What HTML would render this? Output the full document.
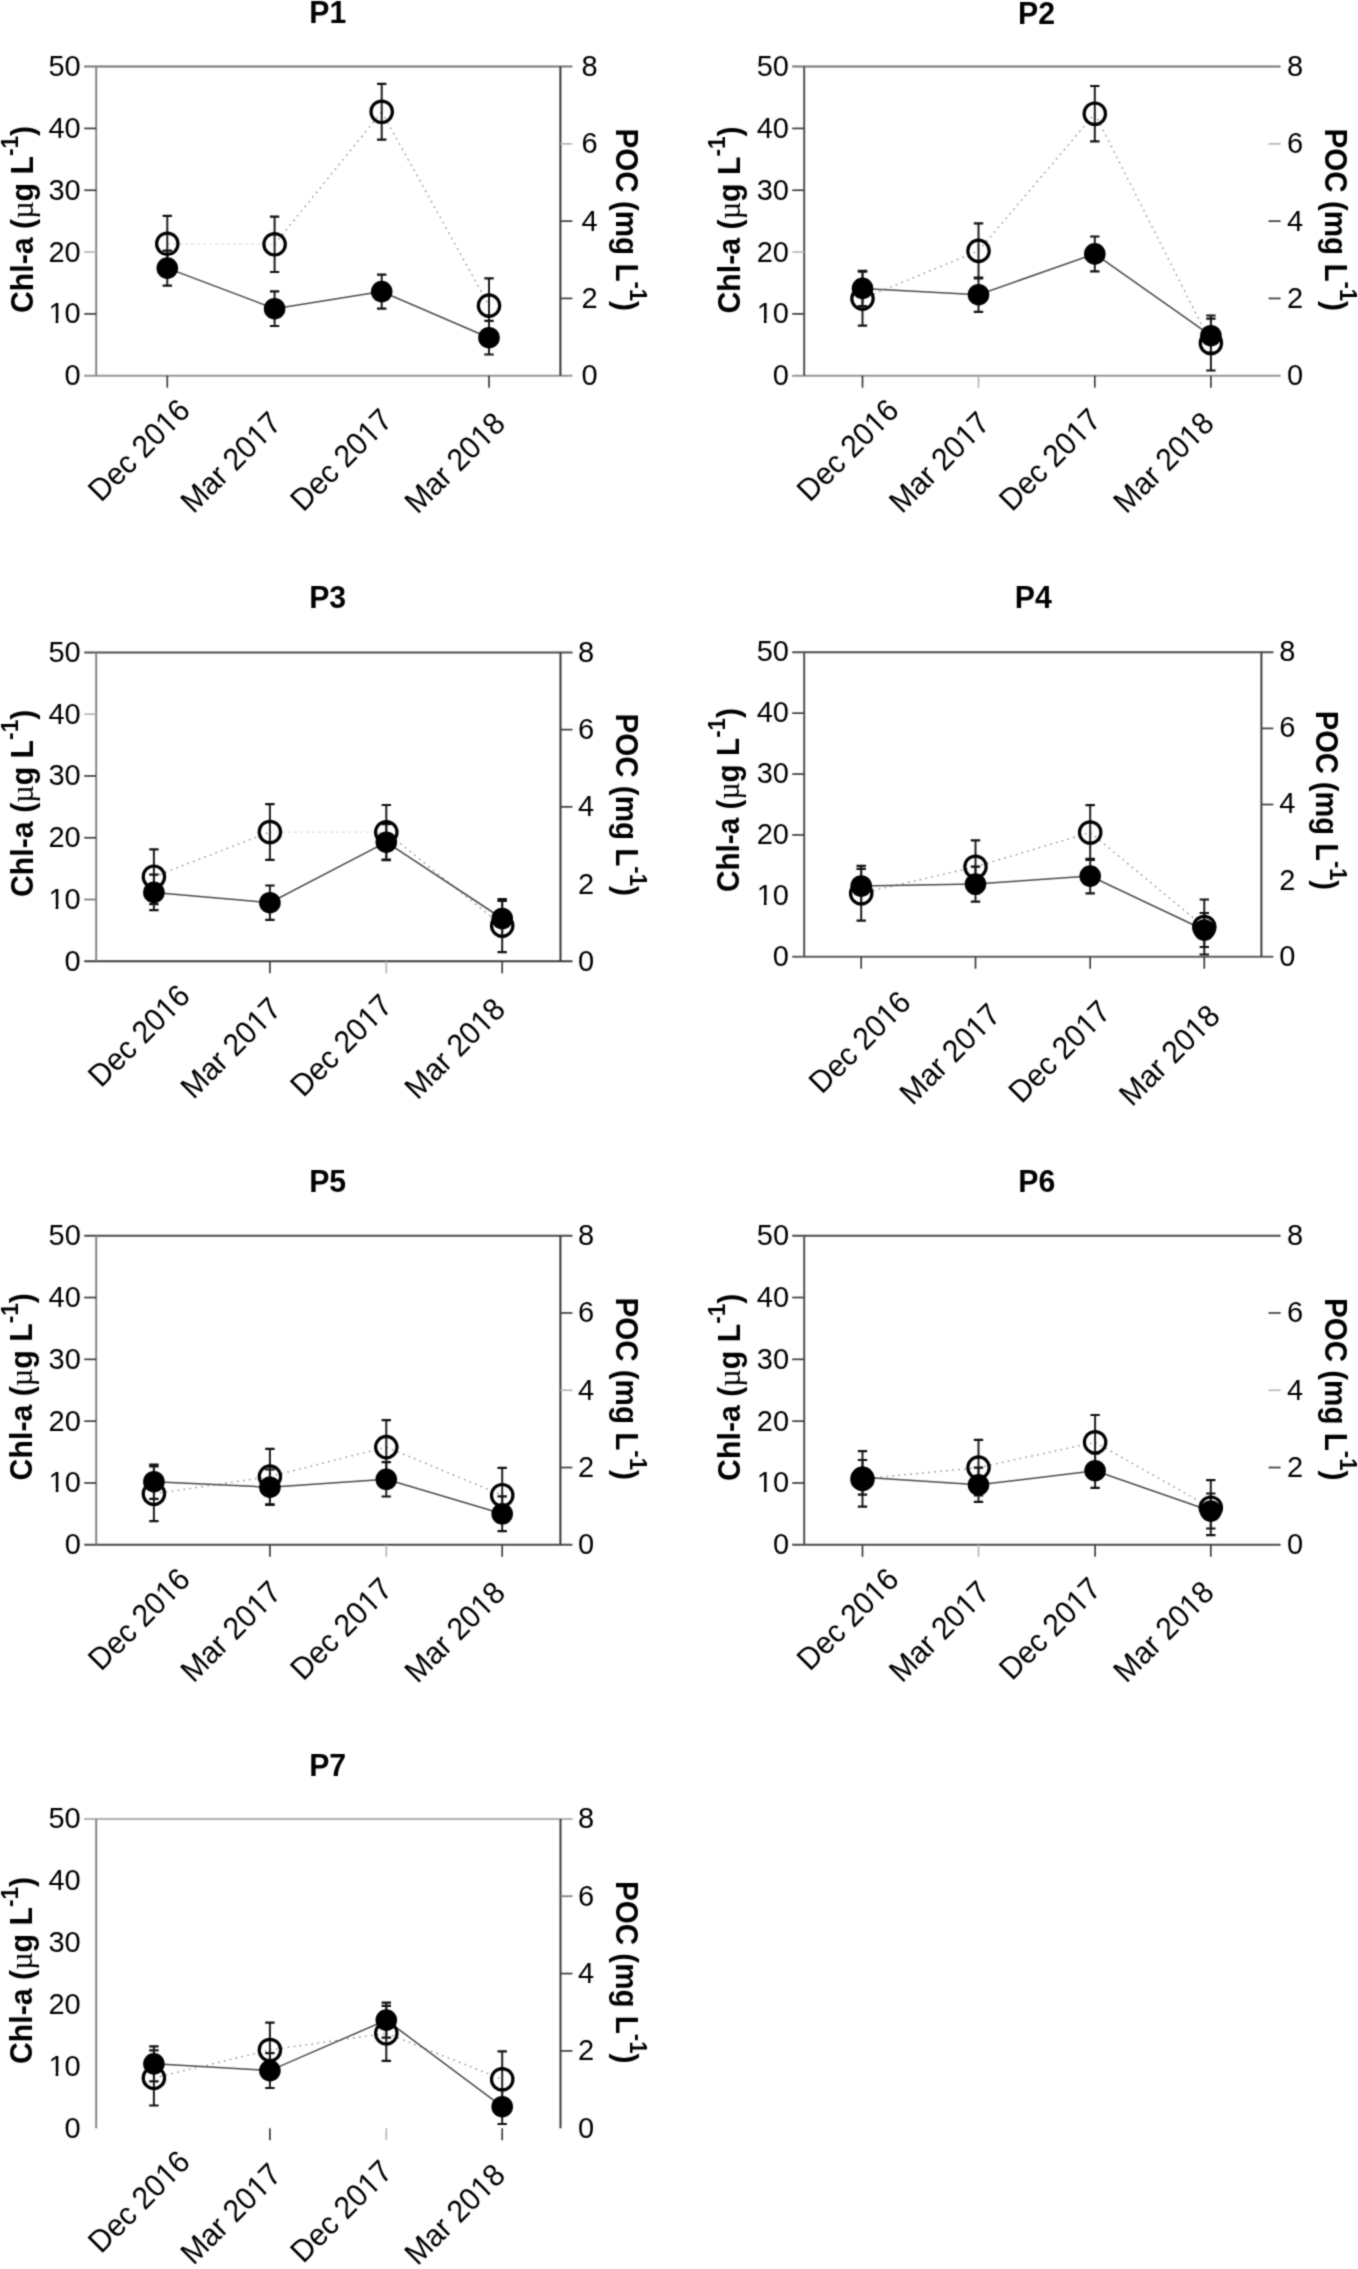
<!DOCTYPE html>
<html><head><meta charset="utf-8"><title>Chl-a and POC time series, stations P1-P7</title>
<style>html,body{margin:0;padding:0;background:#fff;overflow:hidden;}svg{display:block;}</style></head>
<body>
<svg width="1358" height="2269" viewBox="0 0 1358 2269" font-family='"Liberation Sans", sans-serif' fill="#000">
<defs><filter id="soft" filterUnits="userSpaceOnUse" x="0" y="0" width="1358" height="2269" color-interpolation-filters="sRGB"><feConvolveMatrix order="3" kernelMatrix="0.0324 0.1152 0.0324 0.1152 0.4096 0.1152 0.0324 0.1152 0.0324" divisor="1" edgeMode="duplicate"/></filter></defs>
<rect width="1358" height="2269" fill="#fff"/>
<g filter="url(#soft)">
<rect width="1358" height="2269" fill="#fff"/>
<g>
<text transform="translate(309.3,23.3) scale(0.96,1)" font-size="31.5" font-weight="bold">P1</text>
<line x1="84.2" y1="66.6" x2="572.4" y2="66.6" stroke="#767676" stroke-width="2.0"/>
<line x1="84.2" y1="375.7" x2="572.4" y2="375.7" stroke="#969696" stroke-width="2.0"/>
<line x1="96.2" y1="66.6" x2="96.2" y2="375.7" stroke="#868686" stroke-width="2.0"/>
<line x1="560.4" y1="66.6" x2="560.4" y2="375.7" stroke="#363636" stroke-width="2.0"/>
<text x="80.7" y="385.2" font-size="29" text-anchor="end">0</text>
<line x1="84.2" y1="313.88" x2="96.2" y2="313.88" stroke="#3e3e3e" stroke-width="1.7"/>
<text x="80.7" y="323.38" font-size="29" text-anchor="end">10</text>
<g transform="translate(80.7,323.38)"><rect x="-31.23" y="-4.35" width="6.15" height="5.37" fill="#fff"/><rect x="-22.36" y="-4.35" width="5.94" height="5.37" fill="#fff"/></g>
<line x1="84.2" y1="252.06" x2="96.2" y2="252.06" stroke="#b8b8b8" stroke-width="1.7"/>
<text x="80.7" y="261.56" font-size="29" text-anchor="end">20</text>
<line x1="84.2" y1="190.24" x2="96.2" y2="190.24" stroke="#3e3e3e" stroke-width="1.7"/>
<text x="80.7" y="199.74" font-size="29" text-anchor="end">30</text>
<line x1="84.2" y1="128.42" x2="96.2" y2="128.42" stroke="#3e3e3e" stroke-width="1.7"/>
<text x="80.7" y="137.92" font-size="29" text-anchor="end">40</text>
<text x="80.7" y="76.1" font-size="29" text-anchor="end">50</text>
<text x="581.4" y="385.2" font-size="29">0</text>
<line x1="560.4" y1="298.42" x2="572.4" y2="298.42" stroke="#3e3e3e" stroke-width="1.7"/>
<text x="581.4" y="307.92" font-size="29">2</text>
<line x1="560.4" y1="221.15" x2="572.4" y2="221.15" stroke="#3e3e3e" stroke-width="1.7"/>
<text x="581.4" y="230.65" font-size="29">4</text>
<line x1="560.4" y1="143.87" x2="572.4" y2="143.87" stroke="#b8b8b8" stroke-width="1.7"/>
<text x="581.4" y="153.37" font-size="29">6</text>
<text x="581.4" y="76.1" font-size="29">8</text>
<line x1="167.3" y1="375.7" x2="167.3" y2="387.7" stroke="#3e3e3e" stroke-width="1.7"/>
<line x1="489" y1="375.7" x2="489" y2="387.7" stroke="#3e3e3e" stroke-width="1.7"/>
<g transform="translate(191.9,412.2) rotate(-45) scale(1,1.045)"><text font-size="30" text-anchor="end">Dec 2016</text><rect x="-32.31" y="-4.5" width="6.36" height="5.55" fill="#fff"/><rect x="-23.13" y="-4.5" width="6.15" height="5.55" fill="#fff"/></g>
<g transform="translate(283,425) rotate(-45) scale(1,1.045)"><text font-size="30" text-anchor="end">Mar 2017</text><rect x="-32.31" y="-4.5" width="6.36" height="5.55" fill="#fff"/><rect x="-23.13" y="-4.5" width="6.15" height="5.55" fill="#fff"/></g>
<g transform="translate(394,421.9) rotate(-45) scale(1,1.045)"><text font-size="30" text-anchor="end">Dec 2017</text><rect x="-32.31" y="-4.5" width="6.36" height="5.55" fill="#fff"/><rect x="-23.13" y="-4.5" width="6.15" height="5.55" fill="#fff"/></g>
<g transform="translate(507,425.5) rotate(-45) scale(1,1.045)"><text font-size="30" text-anchor="end">Mar 2018</text><rect x="-32.31" y="-4.5" width="6.36" height="5.55" fill="#fff"/><rect x="-23.13" y="-4.5" width="6.15" height="5.55" fill="#fff"/></g>
<text transform="translate(32.5,313.1) rotate(-90) scale(0.962,1)" font-size="31.5" font-weight="bold">Chl-a (<tspan font-weight="normal" font-family="Liberation Serif">µ</tspan>g L<tspan font-size="23.5" dy="-14.5">-1</tspan><tspan dy="14.5">)</tspan></text>
<text transform="translate(615.9,128.6) rotate(90) scale(0.94,1)" font-size="31.5" font-weight="bold">POC (mg L<tspan font-size="23.5" dy="-14.5">-1</tspan><tspan dy="14.5">)</tspan></text>
<line x1="167.3" y1="243.8" x2="274.6" y2="244.3" stroke="#dedede" stroke-width="1.2" stroke-dasharray="3,3"/>
<line x1="274.6" y1="244.3" x2="381.7" y2="111.8" stroke="#8a8a8a" stroke-width="1.3" stroke-dasharray="1.6,4.4"/>
<line x1="381.7" y1="111.8" x2="489" y2="305.6" stroke="#8a8a8a" stroke-width="1.3" stroke-dasharray="1.6,4.4"/>
<polyline points="167.3,268.1 274.6,308.7 381.7,291.6 489,337.7" fill="none" stroke="#4a4a4a" stroke-width="1.5"/>
<path d="M167.3,215.9V271.7" stroke="#1e1e1e" stroke-width="2" fill="none"/>
<path d="M162.6,215.9H172M162.6,271.7H172" stroke="#111" stroke-width="2.2" fill="none"/>
<path d="M274.6,216.6V272" stroke="#1e1e1e" stroke-width="2" fill="none"/>
<path d="M269.9,216.6H279.3M269.9,272H279.3" stroke="#111" stroke-width="2.2" fill="none"/>
<path d="M381.7,83.9V139.7" stroke="#1e1e1e" stroke-width="2" fill="none"/>
<path d="M377,83.9H386.4M377,139.7H386.4" stroke="#111" stroke-width="2.2" fill="none"/>
<path d="M489,278.3V332.9" stroke="#1e1e1e" stroke-width="2" fill="none"/>
<path d="M484.3,278.3H493.7M484.3,332.9H493.7" stroke="#111" stroke-width="2.2" fill="none"/>
<path d="M167.3,250.6V285.6" stroke="#1e1e1e" stroke-width="2" fill="none"/>
<path d="M162.6,250.6H172M162.6,285.6H172" stroke="#111" stroke-width="2.2" fill="none"/>
<path d="M274.6,291.4V326" stroke="#1e1e1e" stroke-width="2" fill="none"/>
<path d="M269.9,291.4H279.3M269.9,326H279.3" stroke="#111" stroke-width="2.2" fill="none"/>
<path d="M381.7,274.6V308.6" stroke="#1e1e1e" stroke-width="2" fill="none"/>
<path d="M377,274.6H386.4M377,308.6H386.4" stroke="#111" stroke-width="2.2" fill="none"/>
<path d="M489,320.9V354.5" stroke="#1e1e1e" stroke-width="2" fill="none"/>
<path d="M484.3,320.9H493.7M484.3,354.5H493.7" stroke="#111" stroke-width="2.2" fill="none"/>
<circle cx="167.3" cy="243.8" r="10.7" fill="none" stroke="#000" stroke-width="3.2"/>
<circle cx="274.6" cy="244.3" r="10.7" fill="none" stroke="#000" stroke-width="3.2"/>
<circle cx="381.7" cy="111.8" r="10.7" fill="none" stroke="#000" stroke-width="3.2"/>
<circle cx="489" cy="305.6" r="10.7" fill="none" stroke="#000" stroke-width="3.2"/>
<circle cx="167.3" cy="268.1" r="10.8" fill="#000"/>
<circle cx="274.6" cy="308.7" r="10.8" fill="#000"/>
<circle cx="381.7" cy="291.6" r="10.8" fill="#000"/>
<circle cx="489" cy="337.7" r="10.8" fill="#000"/>
</g>
<g>
<text transform="translate(1018,23.5) scale(0.96,1)" font-size="31.5" font-weight="bold">P2</text>
<line x1="792.2" y1="66.6" x2="1280.6" y2="66.6" stroke="#767676" stroke-width="2.0"/>
<line x1="792.2" y1="375.7" x2="1280.6" y2="375.7" stroke="#969696" stroke-width="2.0"/>
<line x1="804.2" y1="66.6" x2="804.2" y2="375.7" stroke="#505050" stroke-width="2.0"/>
<text x="788.9" y="385.2" font-size="29" text-anchor="end">0</text>
<line x1="792.2" y1="313.88" x2="804.2" y2="313.88" stroke="#3e3e3e" stroke-width="1.7"/>
<text x="788.9" y="323.38" font-size="29" text-anchor="end">10</text>
<g transform="translate(788.9,323.38)"><rect x="-31.23" y="-4.35" width="6.15" height="5.37" fill="#fff"/><rect x="-22.36" y="-4.35" width="5.94" height="5.37" fill="#fff"/></g>
<line x1="792.2" y1="252.06" x2="804.2" y2="252.06" stroke="#b8b8b8" stroke-width="1.7"/>
<text x="788.9" y="261.56" font-size="29" text-anchor="end">20</text>
<line x1="792.2" y1="190.24" x2="804.2" y2="190.24" stroke="#3e3e3e" stroke-width="1.7"/>
<text x="788.9" y="199.74" font-size="29" text-anchor="end">30</text>
<line x1="792.2" y1="128.42" x2="804.2" y2="128.42" stroke="#3e3e3e" stroke-width="1.7"/>
<text x="788.9" y="137.92" font-size="29" text-anchor="end">40</text>
<text x="788.9" y="76.1" font-size="29" text-anchor="end">50</text>
<text x="1287" y="385.2" font-size="29">0</text>
<line x1="1268.6" y1="298.42" x2="1280.6" y2="298.42" stroke="#3e3e3e" stroke-width="1.7"/>
<text x="1287" y="307.92" font-size="29">2</text>
<line x1="1268.6" y1="221.15" x2="1280.6" y2="221.15" stroke="#3e3e3e" stroke-width="1.7"/>
<text x="1287" y="230.65" font-size="29">4</text>
<line x1="1268.6" y1="143.87" x2="1280.6" y2="143.87" stroke="#b8b8b8" stroke-width="1.7"/>
<text x="1287" y="153.37" font-size="29">6</text>
<text x="1287" y="76.1" font-size="29">8</text>
<line x1="862.5" y1="375.7" x2="862.5" y2="387.7" stroke="#3e3e3e" stroke-width="1.7"/>
<line x1="978.5" y1="375.7" x2="978.5" y2="387.7" stroke="#b8b8b8" stroke-width="1.7"/>
<line x1="1094.8" y1="375.7" x2="1094.8" y2="387.7" stroke="#3e3e3e" stroke-width="1.7"/>
<line x1="1210.9" y1="375.7" x2="1210.9" y2="387.7" stroke="#3e3e3e" stroke-width="1.7"/>
<g transform="translate(900.6,412.1) rotate(-45) scale(1,1.045)"><text font-size="30" text-anchor="end">Dec 2016</text><rect x="-32.31" y="-4.5" width="6.36" height="5.55" fill="#fff"/><rect x="-23.13" y="-4.5" width="6.15" height="5.55" fill="#fff"/></g>
<g transform="translate(991.5,425) rotate(-45) scale(1,1.045)"><text font-size="30" text-anchor="end">Mar 2017</text><rect x="-32.31" y="-4.5" width="6.36" height="5.55" fill="#fff"/><rect x="-23.13" y="-4.5" width="6.15" height="5.55" fill="#fff"/></g>
<g transform="translate(1102.7,421.6) rotate(-45) scale(1,1.045)"><text font-size="30" text-anchor="end">Dec 2017</text><rect x="-32.31" y="-4.5" width="6.36" height="5.55" fill="#fff"/><rect x="-23.13" y="-4.5" width="6.15" height="5.55" fill="#fff"/></g>
<g transform="translate(1215.8,425.2) rotate(-45) scale(1,1.045)"><text font-size="30" text-anchor="end">Mar 2018</text><rect x="-32.31" y="-4.5" width="6.36" height="5.55" fill="#fff"/><rect x="-23.13" y="-4.5" width="6.15" height="5.55" fill="#fff"/></g>
<text transform="translate(739.7,313.6) rotate(-90) scale(0.962,1)" font-size="31.5" font-weight="bold">Chl-a (<tspan font-weight="normal" font-family="Liberation Serif">µ</tspan>g L<tspan font-size="23.5" dy="-14.5">-1</tspan><tspan dy="14.5">)</tspan></text>
<text transform="translate(1325.1,128.6) rotate(90) scale(0.94,1)" font-size="31.5" font-weight="bold">POC (mg L<tspan font-size="23.5" dy="-14.5">-1</tspan><tspan dy="14.5">)</tspan></text>
<line x1="862.5" y1="298.6" x2="978.5" y2="250.9" stroke="#8a8a8a" stroke-width="1.3" stroke-dasharray="1.6,4.4"/>
<line x1="978.5" y1="250.9" x2="1094.8" y2="113.7" stroke="#8a8a8a" stroke-width="1.3" stroke-dasharray="1.6,4.4"/>
<line x1="1094.8" y1="113.7" x2="1210.9" y2="343" stroke="#8a8a8a" stroke-width="1.3" stroke-dasharray="1.6,4.4"/>
<polyline points="862.5,288.4 978.5,294.7 1094.8,253.9 1210.9,335.7" fill="none" stroke="#4a4a4a" stroke-width="1.5"/>
<path d="M862.5,271.6V325.6" stroke="#1e1e1e" stroke-width="2" fill="none"/>
<path d="M857.8,271.6H867.2M857.8,325.6H867.2" stroke="#111" stroke-width="2.2" fill="none"/>
<path d="M978.5,223.4V278.4" stroke="#1e1e1e" stroke-width="2" fill="none"/>
<path d="M973.8,223.4H983.2M973.8,278.4H983.2" stroke="#111" stroke-width="2.2" fill="none"/>
<path d="M1094.8,86V141.4" stroke="#1e1e1e" stroke-width="2" fill="none"/>
<path d="M1090.1,86H1099.5M1090.1,141.4H1099.5" stroke="#111" stroke-width="2.2" fill="none"/>
<path d="M1210.9,315.5V370.5" stroke="#1e1e1e" stroke-width="2" fill="none"/>
<path d="M1206.2,315.5H1215.6M1206.2,370.5H1215.6" stroke="#111" stroke-width="2.2" fill="none"/>
<path d="M862.5,270.8V306" stroke="#1e1e1e" stroke-width="2" fill="none"/>
<path d="M857.8,270.8H867.2M857.8,306H867.2" stroke="#111" stroke-width="2.2" fill="none"/>
<path d="M978.5,277.5V311.9" stroke="#1e1e1e" stroke-width="2" fill="none"/>
<path d="M973.8,277.5H983.2M973.8,311.9H983.2" stroke="#111" stroke-width="2.2" fill="none"/>
<path d="M1094.8,236.5V271.3" stroke="#1e1e1e" stroke-width="2" fill="none"/>
<path d="M1090.1,236.5H1099.5M1090.1,271.3H1099.5" stroke="#111" stroke-width="2.2" fill="none"/>
<path d="M1210.9,318.7V352.7" stroke="#1e1e1e" stroke-width="2" fill="none"/>
<path d="M1206.2,318.7H1215.6M1206.2,352.7H1215.6" stroke="#111" stroke-width="2.2" fill="none"/>
<circle cx="862.5" cy="298.6" r="10.7" fill="none" stroke="#000" stroke-width="3.2"/>
<circle cx="978.5" cy="250.9" r="10.7" fill="none" stroke="#000" stroke-width="3.2"/>
<circle cx="1094.8" cy="113.7" r="10.7" fill="none" stroke="#000" stroke-width="3.2"/>
<circle cx="1210.9" cy="343" r="10.7" fill="none" stroke="#000" stroke-width="3.2"/>
<circle cx="862.5" cy="288.4" r="10.8" fill="#000"/>
<circle cx="978.5" cy="294.7" r="10.8" fill="#000"/>
<circle cx="1094.8" cy="253.9" r="10.8" fill="#000"/>
<circle cx="1210.9" cy="335.7" r="10.8" fill="#000"/>
</g>
<g>
<text transform="translate(309.2,607.9) scale(0.96,1)" font-size="31.5" font-weight="bold">P3</text>
<line x1="84.2" y1="652.4" x2="572.5" y2="652.4" stroke="#4e4e4e" stroke-width="2.0"/>
<line x1="84.2" y1="961.3" x2="572.5" y2="961.3" stroke="#3b3b3b" stroke-width="2.0"/>
<line x1="96.2" y1="652.4" x2="96.2" y2="961.3" stroke="#868686" stroke-width="2.0"/>
<line x1="560.5" y1="652.4" x2="560.5" y2="961.3" stroke="#363636" stroke-width="2.0"/>
<text x="80.7" y="970.8" font-size="29" text-anchor="end">0</text>
<line x1="84.2" y1="899.52" x2="96.2" y2="899.52" stroke="#7a7a7a" stroke-width="1.7"/>
<text x="80.7" y="909.02" font-size="29" text-anchor="end">10</text>
<g transform="translate(80.7,909.02)"><rect x="-31.23" y="-4.35" width="6.15" height="5.37" fill="#fff"/><rect x="-22.36" y="-4.35" width="5.94" height="5.37" fill="#fff"/></g>
<line x1="84.2" y1="837.74" x2="96.2" y2="837.74" stroke="#3e3e3e" stroke-width="1.7"/>
<text x="80.7" y="847.24" font-size="29" text-anchor="end">20</text>
<line x1="84.2" y1="775.96" x2="96.2" y2="775.96" stroke="#3e3e3e" stroke-width="1.7"/>
<text x="80.7" y="785.46" font-size="29" text-anchor="end">30</text>
<line x1="84.2" y1="714.18" x2="96.2" y2="714.18" stroke="#b8b8b8" stroke-width="1.7"/>
<text x="80.7" y="723.68" font-size="29" text-anchor="end">40</text>
<text x="80.7" y="661.9" font-size="29" text-anchor="end">50</text>
<text x="578.1" y="970.8" font-size="29">0</text>
<text x="578.1" y="893.57" font-size="29">2</text>
<line x1="560.5" y1="806.85" x2="572.5" y2="806.85" stroke="#3e3e3e" stroke-width="1.7"/>
<text x="578.1" y="816.35" font-size="29">4</text>
<line x1="560.5" y1="729.62" x2="572.5" y2="729.62" stroke="#3e3e3e" stroke-width="1.7"/>
<text x="578.1" y="739.12" font-size="29">6</text>
<text x="578.1" y="661.9" font-size="29">8</text>
<line x1="269.9" y1="961.3" x2="269.9" y2="973.3" stroke="#3e3e3e" stroke-width="1.7"/>
<line x1="386.3" y1="961.3" x2="386.3" y2="973.3" stroke="#b8b8b8" stroke-width="1.7"/>
<line x1="502.2" y1="961.3" x2="502.2" y2="973.3" stroke="#3e3e3e" stroke-width="1.7"/>
<g transform="translate(191.9,997.8) rotate(-45) scale(1,1.045)"><text font-size="30" text-anchor="end">Dec 2016</text><rect x="-32.31" y="-4.5" width="6.36" height="5.55" fill="#fff"/><rect x="-23.13" y="-4.5" width="6.15" height="5.55" fill="#fff"/></g>
<g transform="translate(283,1010.6) rotate(-45) scale(1,1.045)"><text font-size="30" text-anchor="end">Mar 2017</text><rect x="-32.31" y="-4.5" width="6.36" height="5.55" fill="#fff"/><rect x="-23.13" y="-4.5" width="6.15" height="5.55" fill="#fff"/></g>
<g transform="translate(394,1007.5) rotate(-45) scale(1,1.045)"><text font-size="30" text-anchor="end">Dec 2017</text><rect x="-32.31" y="-4.5" width="6.36" height="5.55" fill="#fff"/><rect x="-23.13" y="-4.5" width="6.15" height="5.55" fill="#fff"/></g>
<g transform="translate(507,1011.1) rotate(-45) scale(1,1.045)"><text font-size="30" text-anchor="end">Mar 2018</text><rect x="-32.31" y="-4.5" width="6.36" height="5.55" fill="#fff"/><rect x="-23.13" y="-4.5" width="6.15" height="5.55" fill="#fff"/></g>
<text transform="translate(32.5,897) rotate(-90) scale(0.962,1)" font-size="31.5" font-weight="bold">Chl-a (<tspan font-weight="normal" font-family="Liberation Serif">µ</tspan>g L<tspan font-size="23.5" dy="-14.5">-1</tspan><tspan dy="14.5">)</tspan></text>
<text transform="translate(615.9,713.5) rotate(90) scale(0.94,1)" font-size="31.5" font-weight="bold">POC (mg L<tspan font-size="23.5" dy="-14.5">-1</tspan><tspan dy="14.5">)</tspan></text>
<line x1="153.9" y1="876.7" x2="269.9" y2="832" stroke="#8a8a8a" stroke-width="1.3" stroke-dasharray="1.6,4.4"/>
<line x1="269.9" y1="832" x2="386.3" y2="832.3" stroke="#dedede" stroke-width="1.2" stroke-dasharray="3,3"/>
<line x1="386.3" y1="832.3" x2="502.2" y2="925.6" stroke="#8a8a8a" stroke-width="1.3" stroke-dasharray="1.6,4.4"/>
<polyline points="153.9,892.4 269.9,902.7 386.3,842.2 502.2,918.5" fill="none" stroke="#4a4a4a" stroke-width="1.5"/>
<path d="M153.9,849.3V904.1" stroke="#1e1e1e" stroke-width="2" fill="none"/>
<path d="M149.2,849.3H158.6M149.2,904.1H158.6" stroke="#111" stroke-width="2.2" fill="none"/>
<path d="M269.9,804.1V859.9" stroke="#1e1e1e" stroke-width="2" fill="none"/>
<path d="M265.2,804.1H274.6M265.2,859.9H274.6" stroke="#111" stroke-width="2.2" fill="none"/>
<path d="M386.3,805V859.6" stroke="#1e1e1e" stroke-width="2" fill="none"/>
<path d="M381.6,805H391M381.6,859.6H391" stroke="#111" stroke-width="2.2" fill="none"/>
<path d="M502.2,899.1V952.1" stroke="#1e1e1e" stroke-width="2" fill="none"/>
<path d="M497.5,899.1H506.9M497.5,952.1H506.9" stroke="#111" stroke-width="2.2" fill="none"/>
<path d="M153.9,874.7V910.1" stroke="#1e1e1e" stroke-width="2" fill="none"/>
<path d="M149.2,874.7H158.6M149.2,910.1H158.6" stroke="#111" stroke-width="2.2" fill="none"/>
<path d="M269.9,885.5V919.9" stroke="#1e1e1e" stroke-width="2" fill="none"/>
<path d="M265.2,885.5H274.6M265.2,919.9H274.6" stroke="#111" stroke-width="2.2" fill="none"/>
<path d="M386.3,824.2V860.2" stroke="#1e1e1e" stroke-width="2" fill="none"/>
<path d="M381.6,824.2H391M381.6,860.2H391" stroke="#111" stroke-width="2.2" fill="none"/>
<path d="M502.2,900.8V936.2" stroke="#1e1e1e" stroke-width="2" fill="none"/>
<path d="M497.5,900.8H506.9M497.5,936.2H506.9" stroke="#111" stroke-width="2.2" fill="none"/>
<circle cx="153.9" cy="876.7" r="10.7" fill="none" stroke="#000" stroke-width="3.2"/>
<circle cx="269.9" cy="832" r="10.7" fill="none" stroke="#000" stroke-width="3.2"/>
<circle cx="386.3" cy="832.3" r="10.7" fill="none" stroke="#000" stroke-width="3.2"/>
<circle cx="502.2" cy="925.6" r="10.7" fill="none" stroke="#000" stroke-width="3.2"/>
<circle cx="153.9" cy="892.4" r="10.8" fill="#000"/>
<circle cx="269.9" cy="902.7" r="10.8" fill="#000"/>
<circle cx="386.3" cy="842.2" r="10.8" fill="#000"/>
<circle cx="502.2" cy="918.5" r="10.8" fill="#000"/>
</g>
<g>
<text transform="translate(1014.8,607.9) scale(0.96,1)" font-size="31.5" font-weight="bold">P4</text>
<line x1="792.2" y1="652.3" x2="1273.4" y2="652.3" stroke="#4e4e4e" stroke-width="2.0"/>
<line x1="792.2" y1="956.7" x2="1273.4" y2="956.7" stroke="#5e5e5e" stroke-width="2.0"/>
<line x1="804.2" y1="652.3" x2="804.2" y2="956.7" stroke="#505050" stroke-width="2.0"/>
<line x1="1261.4" y1="652.3" x2="1261.4" y2="956.7" stroke="#404040" stroke-width="2.0"/>
<text x="788.9" y="965.6" font-size="29" text-anchor="end">0</text>
<text x="788.9" y="904.72" font-size="29" text-anchor="end">10</text>
<g transform="translate(788.9,904.72)"><rect x="-31.23" y="-4.35" width="6.15" height="5.37" fill="#fff"/><rect x="-22.36" y="-4.35" width="5.94" height="5.37" fill="#fff"/></g>
<line x1="792.2" y1="834.94" x2="804.2" y2="834.94" stroke="#3e3e3e" stroke-width="1.7"/>
<text x="788.9" y="843.84" font-size="29" text-anchor="end">20</text>
<line x1="792.2" y1="774.06" x2="804.2" y2="774.06" stroke="#3e3e3e" stroke-width="1.7"/>
<text x="788.9" y="782.96" font-size="29" text-anchor="end">30</text>
<line x1="792.2" y1="713.18" x2="804.2" y2="713.18" stroke="#3e3e3e" stroke-width="1.7"/>
<text x="788.9" y="722.08" font-size="29" text-anchor="end">40</text>
<text x="788.9" y="661.2" font-size="29" text-anchor="end">50</text>
<text x="1279.3" y="965.6" font-size="29">0</text>
<text x="1279.3" y="889.5" font-size="29">2</text>
<line x1="1261.4" y1="804.5" x2="1273.4" y2="804.5" stroke="#3e3e3e" stroke-width="1.7"/>
<text x="1279.3" y="813.4" font-size="29">4</text>
<line x1="1261.4" y1="728.4" x2="1273.4" y2="728.4" stroke="#3e3e3e" stroke-width="1.7"/>
<text x="1279.3" y="737.3" font-size="29">6</text>
<text x="1279.3" y="661.2" font-size="29">8</text>
<line x1="861.2" y1="956.7" x2="861.2" y2="968.7" stroke="#3e3e3e" stroke-width="1.7"/>
<line x1="975.5" y1="956.7" x2="975.5" y2="968.7" stroke="#3e3e3e" stroke-width="1.7"/>
<line x1="1090.2" y1="956.7" x2="1090.2" y2="968.7" stroke="#3e3e3e" stroke-width="1.7"/>
<line x1="1204.3" y1="956.7" x2="1204.3" y2="968.7" stroke="#3e3e3e" stroke-width="1.7"/>
<g transform="translate(912.6,1004.2) rotate(-45) scale(1,1.045)"><text font-size="30" text-anchor="end">Dec 2016</text><rect x="-32.31" y="-4.5" width="6.36" height="5.55" fill="#fff"/><rect x="-23.13" y="-4.5" width="6.15" height="5.55" fill="#fff"/></g>
<g transform="translate(1002.2,1016.7) rotate(-45) scale(1,1.045)"><text font-size="30" text-anchor="end">Mar 2017</text><rect x="-32.31" y="-4.5" width="6.36" height="5.55" fill="#fff"/><rect x="-23.13" y="-4.5" width="6.15" height="5.55" fill="#fff"/></g>
<g transform="translate(1112.2,1013.8) rotate(-45) scale(1,1.045)"><text font-size="30" text-anchor="end">Dec 2017</text><rect x="-32.31" y="-4.5" width="6.36" height="5.55" fill="#fff"/><rect x="-23.13" y="-4.5" width="6.15" height="5.55" fill="#fff"/></g>
<g transform="translate(1221.7,1017.9) rotate(-45) scale(1,1.045)"><text font-size="30" text-anchor="end">Mar 2018</text><rect x="-32.31" y="-4.5" width="6.36" height="5.55" fill="#fff"/><rect x="-23.13" y="-4.5" width="6.15" height="5.55" fill="#fff"/></g>
<text transform="translate(739.4,892.1) rotate(-90) scale(0.944684,1)" font-size="31.5" font-weight="bold">Chl-a (<tspan font-weight="normal" font-family="Liberation Serif">µ</tspan>g L<tspan font-size="23.5" dy="-14.5">-1</tspan><tspan dy="14.5">)</tspan></text>
<text transform="translate(1315.9,710.8) rotate(90) scale(0.9230799999999999,1)" font-size="31.5" font-weight="bold">POC (mg L<tspan font-size="23.5" dy="-14.5">-1</tspan><tspan dy="14.5">)</tspan></text>
<line x1="861.2" y1="893.3" x2="975.5" y2="866.8" stroke="#8a8a8a" stroke-width="1.3" stroke-dasharray="1.6,4.4"/>
<line x1="975.5" y1="866.8" x2="1090.2" y2="832.5" stroke="#8a8a8a" stroke-width="1.3" stroke-dasharray="1.6,4.4"/>
<line x1="1090.2" y1="832.5" x2="1204.3" y2="927" stroke="#8a8a8a" stroke-width="1.3" stroke-dasharray="1.6,4.4"/>
<polyline points="861.2,886 975.5,884.1 1090.2,876.1 1204.3,930" fill="none" stroke="#4a4a4a" stroke-width="1.5"/>
<path d="M861.2,865.9V920.7" stroke="#1e1e1e" stroke-width="2" fill="none"/>
<path d="M856.5,865.9H865.9M856.5,920.7H865.9" stroke="#111" stroke-width="2.2" fill="none"/>
<path d="M975.5,840.3V893.3" stroke="#1e1e1e" stroke-width="2" fill="none"/>
<path d="M970.8,840.3H980.2M970.8,893.3H980.2" stroke="#111" stroke-width="2.2" fill="none"/>
<path d="M1090.2,805.2V859.8" stroke="#1e1e1e" stroke-width="2" fill="none"/>
<path d="M1085.5,805.2H1094.9M1085.5,859.8H1094.9" stroke="#111" stroke-width="2.2" fill="none"/>
<path d="M1204.3,899.5V954.5" stroke="#1e1e1e" stroke-width="2" fill="none"/>
<path d="M1199.6,899.5H1209M1199.6,954.5H1209" stroke="#111" stroke-width="2.2" fill="none"/>
<path d="M861.2,868.8V903.2" stroke="#1e1e1e" stroke-width="2" fill="none"/>
<path d="M856.5,868.8H865.9M856.5,903.2H865.9" stroke="#111" stroke-width="2.2" fill="none"/>
<path d="M975.5,866.6V901.6" stroke="#1e1e1e" stroke-width="2" fill="none"/>
<path d="M970.8,866.6H980.2M970.8,901.6H980.2" stroke="#111" stroke-width="2.2" fill="none"/>
<path d="M1090.2,858.8V893.4" stroke="#1e1e1e" stroke-width="2" fill="none"/>
<path d="M1085.5,858.8H1094.9M1085.5,893.4H1094.9" stroke="#111" stroke-width="2.2" fill="none"/>
<path d="M1204.3,913V947" stroke="#1e1e1e" stroke-width="2" fill="none"/>
<path d="M1199.6,913H1209M1199.6,947H1209" stroke="#111" stroke-width="2.2" fill="none"/>
<circle cx="861.2" cy="893.3" r="10.7" fill="none" stroke="#000" stroke-width="3.2"/>
<circle cx="975.5" cy="866.8" r="10.7" fill="none" stroke="#000" stroke-width="3.2"/>
<circle cx="1090.2" cy="832.5" r="10.7" fill="none" stroke="#000" stroke-width="3.2"/>
<circle cx="1204.3" cy="927" r="10.7" fill="none" stroke="#000" stroke-width="3.2"/>
<circle cx="861.2" cy="886" r="10.8" fill="#000"/>
<circle cx="975.5" cy="884.1" r="10.8" fill="#000"/>
<circle cx="1090.2" cy="876.1" r="10.8" fill="#000"/>
<circle cx="1204.3" cy="930" r="10.8" fill="#000"/>
</g>
<g>
<text transform="translate(309.2,1192.3) scale(0.96,1)" font-size="31.5" font-weight="bold">P5</text>
<line x1="84.2" y1="1235.7" x2="572.4" y2="1235.7" stroke="#4a4a4a" stroke-width="2.0"/>
<line x1="84.2" y1="1544.8" x2="572.4" y2="1544.8" stroke="#4a4a4a" stroke-width="2.0"/>
<line x1="96.2" y1="1235.7" x2="96.2" y2="1544.8" stroke="#868686" stroke-width="2.0"/>
<line x1="560.4" y1="1235.7" x2="560.4" y2="1544.8" stroke="#363636" stroke-width="2.0"/>
<text x="80.8" y="1554.3" font-size="29" text-anchor="end">0</text>
<line x1="84.2" y1="1482.98" x2="96.2" y2="1482.98" stroke="#3e3e3e" stroke-width="1.7"/>
<text x="80.8" y="1492.48" font-size="29" text-anchor="end">10</text>
<g transform="translate(80.8,1492.48)"><rect x="-31.23" y="-4.35" width="6.15" height="5.37" fill="#fff"/><rect x="-22.36" y="-4.35" width="5.94" height="5.37" fill="#fff"/></g>
<line x1="84.2" y1="1421.16" x2="96.2" y2="1421.16" stroke="#3e3e3e" stroke-width="1.7"/>
<text x="80.8" y="1430.66" font-size="29" text-anchor="end">20</text>
<line x1="84.2" y1="1359.34" x2="96.2" y2="1359.34" stroke="#3e3e3e" stroke-width="1.7"/>
<text x="80.8" y="1368.84" font-size="29" text-anchor="end">30</text>
<line x1="84.2" y1="1297.52" x2="96.2" y2="1297.52" stroke="#3e3e3e" stroke-width="1.7"/>
<text x="80.8" y="1307.02" font-size="29" text-anchor="end">40</text>
<text x="80.8" y="1245.2" font-size="29" text-anchor="end">50</text>
<text x="578.1" y="1554.3" font-size="29">0</text>
<line x1="560.4" y1="1467.53" x2="572.4" y2="1467.53" stroke="#3e3e3e" stroke-width="1.7"/>
<text x="578.1" y="1477.03" font-size="29">2</text>
<line x1="560.4" y1="1390.25" x2="572.4" y2="1390.25" stroke="#b8b8b8" stroke-width="1.7"/>
<text x="578.1" y="1399.75" font-size="29">4</text>
<line x1="560.4" y1="1312.97" x2="572.4" y2="1312.97" stroke="#3e3e3e" stroke-width="1.7"/>
<text x="578.1" y="1322.47" font-size="29">6</text>
<text x="578.1" y="1245.2" font-size="29">8</text>
<line x1="269.9" y1="1544.8" x2="269.9" y2="1556.8" stroke="#3e3e3e" stroke-width="1.7"/>
<line x1="386.3" y1="1544.8" x2="386.3" y2="1556.8" stroke="#b8b8b8" stroke-width="1.7"/>
<line x1="502.2" y1="1544.8" x2="502.2" y2="1556.8" stroke="#3e3e3e" stroke-width="1.7"/>
<g transform="translate(191.9,1581.3) rotate(-45) scale(1,1.045)"><text font-size="30" text-anchor="end">Dec 2016</text><rect x="-32.31" y="-4.5" width="6.36" height="5.55" fill="#fff"/><rect x="-23.13" y="-4.5" width="6.15" height="5.55" fill="#fff"/></g>
<g transform="translate(283,1594.1) rotate(-45) scale(1,1.045)"><text font-size="30" text-anchor="end">Mar 2017</text><rect x="-32.31" y="-4.5" width="6.36" height="5.55" fill="#fff"/><rect x="-23.13" y="-4.5" width="6.15" height="5.55" fill="#fff"/></g>
<g transform="translate(394,1591) rotate(-45) scale(1,1.045)"><text font-size="30" text-anchor="end">Dec 2017</text><rect x="-32.31" y="-4.5" width="6.36" height="5.55" fill="#fff"/><rect x="-23.13" y="-4.5" width="6.15" height="5.55" fill="#fff"/></g>
<g transform="translate(507,1594.6) rotate(-45) scale(1,1.045)"><text font-size="30" text-anchor="end">Mar 2018</text><rect x="-32.31" y="-4.5" width="6.36" height="5.55" fill="#fff"/><rect x="-23.13" y="-4.5" width="6.15" height="5.55" fill="#fff"/></g>
<text transform="translate(32.3,1480.4) rotate(-90) scale(0.962,1)" font-size="31.5" font-weight="bold">Chl-a (<tspan font-weight="normal" font-family="Liberation Serif">µ</tspan>g L<tspan font-size="23.5" dy="-14.5">-1</tspan><tspan dy="14.5">)</tspan></text>
<text transform="translate(615.9,1297.4) rotate(90) scale(0.94,1)" font-size="31.5" font-weight="bold">POC (mg L<tspan font-size="23.5" dy="-14.5">-1</tspan><tspan dy="14.5">)</tspan></text>
<line x1="153.9" y1="1493.8" x2="269.9" y2="1476.6" stroke="#8a8a8a" stroke-width="1.3" stroke-dasharray="1.6,4.4"/>
<line x1="269.9" y1="1476.6" x2="386.3" y2="1447.1" stroke="#8a8a8a" stroke-width="1.3" stroke-dasharray="1.6,4.4"/>
<line x1="386.3" y1="1447.1" x2="502.2" y2="1495.2" stroke="#8a8a8a" stroke-width="1.3" stroke-dasharray="1.6,4.4"/>
<polyline points="153.9,1481.7 269.9,1487.2 386.3,1479.3 502.2,1513.8" fill="none" stroke="#4a4a4a" stroke-width="1.5"/>
<path d="M153.9,1466.4V1521.2" stroke="#1e1e1e" stroke-width="2" fill="none"/>
<path d="M149.2,1466.4H158.6M149.2,1521.2H158.6" stroke="#111" stroke-width="2.2" fill="none"/>
<path d="M269.9,1448.9V1504.3" stroke="#1e1e1e" stroke-width="2" fill="none"/>
<path d="M265.2,1448.9H274.6M265.2,1504.3H274.6" stroke="#111" stroke-width="2.2" fill="none"/>
<path d="M386.3,1420.1V1474.1" stroke="#1e1e1e" stroke-width="2" fill="none"/>
<path d="M381.6,1420.1H391M381.6,1474.1H391" stroke="#111" stroke-width="2.2" fill="none"/>
<path d="M502.2,1467.8V1522.6" stroke="#1e1e1e" stroke-width="2" fill="none"/>
<path d="M497.5,1467.8H506.9M497.5,1522.6H506.9" stroke="#111" stroke-width="2.2" fill="none"/>
<path d="M153.9,1464.6V1498.8" stroke="#1e1e1e" stroke-width="2" fill="none"/>
<path d="M149.2,1464.6H158.6M149.2,1498.8H158.6" stroke="#111" stroke-width="2.2" fill="none"/>
<path d="M269.9,1469.5V1504.9" stroke="#1e1e1e" stroke-width="2" fill="none"/>
<path d="M265.2,1469.5H274.6M265.2,1504.9H274.6" stroke="#111" stroke-width="2.2" fill="none"/>
<path d="M386.3,1462.1V1496.5" stroke="#1e1e1e" stroke-width="2" fill="none"/>
<path d="M381.6,1462.1H391M381.6,1496.5H391" stroke="#111" stroke-width="2.2" fill="none"/>
<path d="M502.2,1496.4V1531.2" stroke="#1e1e1e" stroke-width="2" fill="none"/>
<path d="M497.5,1496.4H506.9M497.5,1531.2H506.9" stroke="#111" stroke-width="2.2" fill="none"/>
<circle cx="153.9" cy="1493.8" r="10.7" fill="none" stroke="#000" stroke-width="3.2"/>
<circle cx="269.9" cy="1476.6" r="10.7" fill="none" stroke="#000" stroke-width="3.2"/>
<circle cx="386.3" cy="1447.1" r="10.7" fill="none" stroke="#000" stroke-width="3.2"/>
<circle cx="502.2" cy="1495.2" r="10.7" fill="none" stroke="#000" stroke-width="3.2"/>
<circle cx="153.9" cy="1481.7" r="10.8" fill="#000"/>
<circle cx="269.9" cy="1487.2" r="10.8" fill="#000"/>
<circle cx="386.3" cy="1479.3" r="10.8" fill="#000"/>
<circle cx="502.2" cy="1513.8" r="10.8" fill="#000"/>
</g>
<g>
<text transform="translate(1018.3,1192.3) scale(0.96,1)" font-size="31.5" font-weight="bold">P6</text>
<line x1="792.2" y1="1235.7" x2="1280.6" y2="1235.7" stroke="#4a4a4a" stroke-width="2.0"/>
<line x1="792.2" y1="1544.8" x2="1280.6" y2="1544.8" stroke="#4c4c4c" stroke-width="2.0"/>
<line x1="804.2" y1="1235.7" x2="804.2" y2="1544.8" stroke="#505050" stroke-width="2.0"/>
<text x="789.1" y="1554.3" font-size="29" text-anchor="end">0</text>
<line x1="792.2" y1="1482.98" x2="804.2" y2="1482.98" stroke="#3e3e3e" stroke-width="1.7"/>
<text x="789.1" y="1492.48" font-size="29" text-anchor="end">10</text>
<g transform="translate(789.1,1492.48)"><rect x="-31.23" y="-4.35" width="6.15" height="5.37" fill="#fff"/><rect x="-22.36" y="-4.35" width="5.94" height="5.37" fill="#fff"/></g>
<line x1="792.2" y1="1421.16" x2="804.2" y2="1421.16" stroke="#3e3e3e" stroke-width="1.7"/>
<text x="789.1" y="1430.66" font-size="29" text-anchor="end">20</text>
<line x1="792.2" y1="1359.34" x2="804.2" y2="1359.34" stroke="#3e3e3e" stroke-width="1.7"/>
<text x="789.1" y="1368.84" font-size="29" text-anchor="end">30</text>
<line x1="792.2" y1="1297.52" x2="804.2" y2="1297.52" stroke="#3e3e3e" stroke-width="1.7"/>
<text x="789.1" y="1307.02" font-size="29" text-anchor="end">40</text>
<text x="789.1" y="1245.2" font-size="29" text-anchor="end">50</text>
<text x="1287" y="1554.3" font-size="29">0</text>
<line x1="1268.6" y1="1467.53" x2="1280.6" y2="1467.53" stroke="#3e3e3e" stroke-width="1.7"/>
<text x="1287" y="1477.03" font-size="29">2</text>
<line x1="1268.6" y1="1390.25" x2="1280.6" y2="1390.25" stroke="#b8b8b8" stroke-width="1.7"/>
<text x="1287" y="1399.75" font-size="29">4</text>
<line x1="1268.6" y1="1312.97" x2="1280.6" y2="1312.97" stroke="#3e3e3e" stroke-width="1.7"/>
<text x="1287" y="1322.47" font-size="29">6</text>
<text x="1287" y="1245.2" font-size="29">8</text>
<line x1="862.5" y1="1544.8" x2="862.5" y2="1556.8" stroke="#3e3e3e" stroke-width="1.7"/>
<line x1="978.5" y1="1544.8" x2="978.5" y2="1556.8" stroke="#b8b8b8" stroke-width="1.7"/>
<line x1="1095.1" y1="1544.8" x2="1095.1" y2="1556.8" stroke="#3e3e3e" stroke-width="1.7"/>
<line x1="1210.8" y1="1544.8" x2="1210.8" y2="1556.8" stroke="#3e3e3e" stroke-width="1.7"/>
<g transform="translate(900.6,1581.2) rotate(-45) scale(1,1.045)"><text font-size="30" text-anchor="end">Dec 2016</text><rect x="-32.31" y="-4.5" width="6.36" height="5.55" fill="#fff"/><rect x="-23.13" y="-4.5" width="6.15" height="5.55" fill="#fff"/></g>
<g transform="translate(991.5,1594.1) rotate(-45) scale(1,1.045)"><text font-size="30" text-anchor="end">Mar 2017</text><rect x="-32.31" y="-4.5" width="6.36" height="5.55" fill="#fff"/><rect x="-23.13" y="-4.5" width="6.15" height="5.55" fill="#fff"/></g>
<g transform="translate(1102.7,1590.7) rotate(-45) scale(1,1.045)"><text font-size="30" text-anchor="end">Dec 2017</text><rect x="-32.31" y="-4.5" width="6.36" height="5.55" fill="#fff"/><rect x="-23.13" y="-4.5" width="6.15" height="5.55" fill="#fff"/></g>
<g transform="translate(1215.8,1594.3) rotate(-45) scale(1,1.045)"><text font-size="30" text-anchor="end">Mar 2018</text><rect x="-32.31" y="-4.5" width="6.36" height="5.55" fill="#fff"/><rect x="-23.13" y="-4.5" width="6.15" height="5.55" fill="#fff"/></g>
<text transform="translate(739.7,1480.9) rotate(-90) scale(0.962,1)" font-size="31.5" font-weight="bold">Chl-a (<tspan font-weight="normal" font-family="Liberation Serif">µ</tspan>g L<tspan font-size="23.5" dy="-14.5">-1</tspan><tspan dy="14.5">)</tspan></text>
<text transform="translate(1325.1,1297.9) rotate(90) scale(0.94,1)" font-size="31.5" font-weight="bold">POC (mg L<tspan font-size="23.5" dy="-14.5">-1</tspan><tspan dy="14.5">)</tspan></text>
<line x1="862.5" y1="1478.9" x2="978.5" y2="1467.6" stroke="#8a8a8a" stroke-width="1.3" stroke-dasharray="1.6,4.4"/>
<line x1="978.5" y1="1467.6" x2="1095.1" y2="1442.3" stroke="#8a8a8a" stroke-width="1.3" stroke-dasharray="1.6,4.4"/>
<line x1="1095.1" y1="1442.3" x2="1210.8" y2="1507.7" stroke="#8a8a8a" stroke-width="1.3" stroke-dasharray="1.6,4.4"/>
<polyline points="862.5,1477.3 978.5,1484.8 1095.1,1470.7 1210.8,1511" fill="none" stroke="#4a4a4a" stroke-width="1.5"/>
<path d="M862.5,1451.1V1506.7" stroke="#1e1e1e" stroke-width="2" fill="none"/>
<path d="M857.8,1451.1H867.2M857.8,1506.7H867.2" stroke="#111" stroke-width="2.2" fill="none"/>
<path d="M978.5,1439.8V1495.4" stroke="#1e1e1e" stroke-width="2" fill="none"/>
<path d="M973.8,1439.8H983.2M973.8,1495.4H983.2" stroke="#111" stroke-width="2.2" fill="none"/>
<path d="M1095.1,1415V1469.6" stroke="#1e1e1e" stroke-width="2" fill="none"/>
<path d="M1090.4,1415H1099.8M1090.4,1469.6H1099.8" stroke="#111" stroke-width="2.2" fill="none"/>
<path d="M1210.8,1480.2V1535.2" stroke="#1e1e1e" stroke-width="2" fill="none"/>
<path d="M1206.1,1480.2H1215.5M1206.1,1535.2H1215.5" stroke="#111" stroke-width="2.2" fill="none"/>
<path d="M862.5,1460V1494.6" stroke="#1e1e1e" stroke-width="2" fill="none"/>
<path d="M857.8,1460H867.2M857.8,1494.6H867.2" stroke="#111" stroke-width="2.2" fill="none"/>
<path d="M978.5,1467.7V1501.9" stroke="#1e1e1e" stroke-width="2" fill="none"/>
<path d="M973.8,1467.7H983.2M973.8,1501.9H983.2" stroke="#111" stroke-width="2.2" fill="none"/>
<path d="M1095.1,1453.5V1487.9" stroke="#1e1e1e" stroke-width="2" fill="none"/>
<path d="M1090.4,1453.5H1099.8M1090.4,1487.9H1099.8" stroke="#111" stroke-width="2.2" fill="none"/>
<path d="M1210.8,1493.5V1528.5" stroke="#1e1e1e" stroke-width="2" fill="none"/>
<path d="M1206.1,1493.5H1215.5M1206.1,1528.5H1215.5" stroke="#111" stroke-width="2.2" fill="none"/>
<circle cx="862.5" cy="1478.9" r="10.7" fill="none" stroke="#000" stroke-width="3.2"/>
<circle cx="978.5" cy="1467.6" r="10.7" fill="none" stroke="#000" stroke-width="3.2"/>
<circle cx="1095.1" cy="1442.3" r="10.7" fill="none" stroke="#000" stroke-width="3.2"/>
<circle cx="1210.8" cy="1507.7" r="10.7" fill="none" stroke="#000" stroke-width="3.2"/>
<circle cx="862.5" cy="1477.3" r="10.8" fill="#000"/>
<circle cx="978.5" cy="1484.8" r="10.8" fill="#000"/>
<circle cx="1095.1" cy="1470.7" r="10.8" fill="#000"/>
<circle cx="1210.8" cy="1511" r="10.8" fill="#000"/>
</g>
<g>
<text transform="translate(309.2,1775.5) scale(0.96,1)" font-size="31.5" font-weight="bold">P7</text>
<line x1="84.2" y1="1818.9" x2="572.5" y2="1818.9" stroke="#b2b2b2" stroke-width="2.0"/>
<line x1="96.2" y1="1818.9" x2="96.2" y2="2128.2" stroke="#868686" stroke-width="2.0"/>
<line x1="560.5" y1="1818.9" x2="560.5" y2="2128.2" stroke="#3b3b3b" stroke-width="2.0"/>
<text x="80.7" y="2137.7" font-size="29" text-anchor="end">0</text>
<text x="80.7" y="2075.84" font-size="29" text-anchor="end">10</text>
<g transform="translate(80.7,2075.84)"><rect x="-31.23" y="-4.35" width="6.15" height="5.37" fill="#fff"/><rect x="-22.36" y="-4.35" width="5.94" height="5.37" fill="#fff"/></g>
<text x="80.7" y="2013.98" font-size="29" text-anchor="end">20</text>
<text x="80.7" y="1952.12" font-size="29" text-anchor="end">30</text>
<text x="80.7" y="1890.26" font-size="29" text-anchor="end">40</text>
<text x="80.7" y="1828.4" font-size="29" text-anchor="end">50</text>
<text x="578.1" y="2137.7" font-size="29">0</text>
<line x1="560.5" y1="2050.88" x2="572.5" y2="2050.88" stroke="#3e3e3e" stroke-width="1.7"/>
<text x="578.1" y="2060.38" font-size="29">2</text>
<line x1="560.5" y1="1973.55" x2="572.5" y2="1973.55" stroke="#3e3e3e" stroke-width="1.7"/>
<text x="578.1" y="1983.05" font-size="29">4</text>
<line x1="560.5" y1="1896.22" x2="572.5" y2="1896.22" stroke="#7a7a7a" stroke-width="1.7"/>
<text x="578.1" y="1905.72" font-size="29">6</text>
<text x="578.1" y="1828.4" font-size="29">8</text>
<line x1="269.9" y1="2128.2" x2="269.9" y2="2140.2" stroke="#3e3e3e" stroke-width="1.7"/>
<line x1="386.3" y1="2128.2" x2="386.3" y2="2140.2" stroke="#b8b8b8" stroke-width="1.7"/>
<line x1="502.2" y1="2128.2" x2="502.2" y2="2140.2" stroke="#3e3e3e" stroke-width="1.7"/>
<g transform="translate(191.9,2163.7) rotate(-45) scale(1,1.045)"><text font-size="30" text-anchor="end">Dec 2016</text><rect x="-32.31" y="-4.5" width="6.36" height="5.55" fill="#fff"/><rect x="-23.13" y="-4.5" width="6.15" height="5.55" fill="#fff"/></g>
<g transform="translate(283,2176.5) rotate(-45) scale(1,1.045)"><text font-size="30" text-anchor="end">Mar 2017</text><rect x="-32.31" y="-4.5" width="6.36" height="5.55" fill="#fff"/><rect x="-23.13" y="-4.5" width="6.15" height="5.55" fill="#fff"/></g>
<g transform="translate(394,2173.4) rotate(-45) scale(1,1.045)"><text font-size="30" text-anchor="end">Dec 2017</text><rect x="-32.31" y="-4.5" width="6.36" height="5.55" fill="#fff"/><rect x="-23.13" y="-4.5" width="6.15" height="5.55" fill="#fff"/></g>
<g transform="translate(507,2177) rotate(-45) scale(1,1.045)"><text font-size="30" text-anchor="end">Mar 2018</text><rect x="-32.31" y="-4.5" width="6.36" height="5.55" fill="#fff"/><rect x="-23.13" y="-4.5" width="6.15" height="5.55" fill="#fff"/></g>
<text transform="translate(32.3,2064.1) rotate(-90) scale(0.962,1)" font-size="31.5" font-weight="bold">Chl-a (<tspan font-weight="normal" font-family="Liberation Serif">µ</tspan>g L<tspan font-size="23.5" dy="-14.5">-1</tspan><tspan dy="14.5">)</tspan></text>
<text transform="translate(615.9,1881) rotate(90) scale(0.94,1)" font-size="31.5" font-weight="bold">POC (mg L<tspan font-size="23.5" dy="-14.5">-1</tspan><tspan dy="14.5">)</tspan></text>
<line x1="153.9" y1="2077.9" x2="269.9" y2="2050" stroke="#8a8a8a" stroke-width="1.3" stroke-dasharray="1.6,4.4"/>
<line x1="269.9" y1="2050" x2="386.3" y2="2033.3" stroke="#8a8a8a" stroke-width="1.3" stroke-dasharray="1.6,4.4"/>
<line x1="386.3" y1="2033.3" x2="502.2" y2="2079.3" stroke="#8a8a8a" stroke-width="1.3" stroke-dasharray="1.6,4.4"/>
<polyline points="153.9,2063.8 269.9,2070.6 386.3,2020.1 502.2,2106.7" fill="none" stroke="#4a4a4a" stroke-width="1.5"/>
<path d="M153.9,2050.3V2105.5" stroke="#1e1e1e" stroke-width="2" fill="none"/>
<path d="M149.2,2050.3H158.6M149.2,2105.5H158.6" stroke="#111" stroke-width="2.2" fill="none"/>
<path d="M269.9,2022.7V2077.3" stroke="#1e1e1e" stroke-width="2" fill="none"/>
<path d="M265.2,2022.7H274.6M265.2,2077.3H274.6" stroke="#111" stroke-width="2.2" fill="none"/>
<path d="M386.3,2005.8V2060.8" stroke="#1e1e1e" stroke-width="2" fill="none"/>
<path d="M381.6,2005.8H391M381.6,2060.8H391" stroke="#111" stroke-width="2.2" fill="none"/>
<path d="M502.2,2051.4V2107.2" stroke="#1e1e1e" stroke-width="2" fill="none"/>
<path d="M497.5,2051.4H506.9M497.5,2107.2H506.9" stroke="#111" stroke-width="2.2" fill="none"/>
<path d="M153.9,2046.3V2081.3" stroke="#1e1e1e" stroke-width="2" fill="none"/>
<path d="M149.2,2046.3H158.6M149.2,2081.3H158.6" stroke="#111" stroke-width="2.2" fill="none"/>
<path d="M269.9,2053.2V2088" stroke="#1e1e1e" stroke-width="2" fill="none"/>
<path d="M265.2,2053.2H274.6M265.2,2088H274.6" stroke="#111" stroke-width="2.2" fill="none"/>
<path d="M386.3,2002.6V2037.6" stroke="#1e1e1e" stroke-width="2" fill="none"/>
<path d="M381.6,2002.6H391M381.6,2037.6H391" stroke="#111" stroke-width="2.2" fill="none"/>
<path d="M502.2,2089.4V2124" stroke="#1e1e1e" stroke-width="2" fill="none"/>
<path d="M497.5,2089.4H506.9M497.5,2124H506.9" stroke="#111" stroke-width="2.2" fill="none"/>
<circle cx="153.9" cy="2077.9" r="10.7" fill="none" stroke="#000" stroke-width="3.2"/>
<circle cx="269.9" cy="2050" r="10.7" fill="none" stroke="#000" stroke-width="3.2"/>
<circle cx="386.3" cy="2033.3" r="10.7" fill="none" stroke="#000" stroke-width="3.2"/>
<circle cx="502.2" cy="2079.3" r="10.7" fill="none" stroke="#000" stroke-width="3.2"/>
<circle cx="153.9" cy="2063.8" r="10.8" fill="#000"/>
<circle cx="269.9" cy="2070.6" r="10.8" fill="#000"/>
<circle cx="386.3" cy="2020.1" r="10.8" fill="#000"/>
<circle cx="502.2" cy="2106.7" r="10.8" fill="#000"/>
</g>
</g>
</svg>
</body></html>
